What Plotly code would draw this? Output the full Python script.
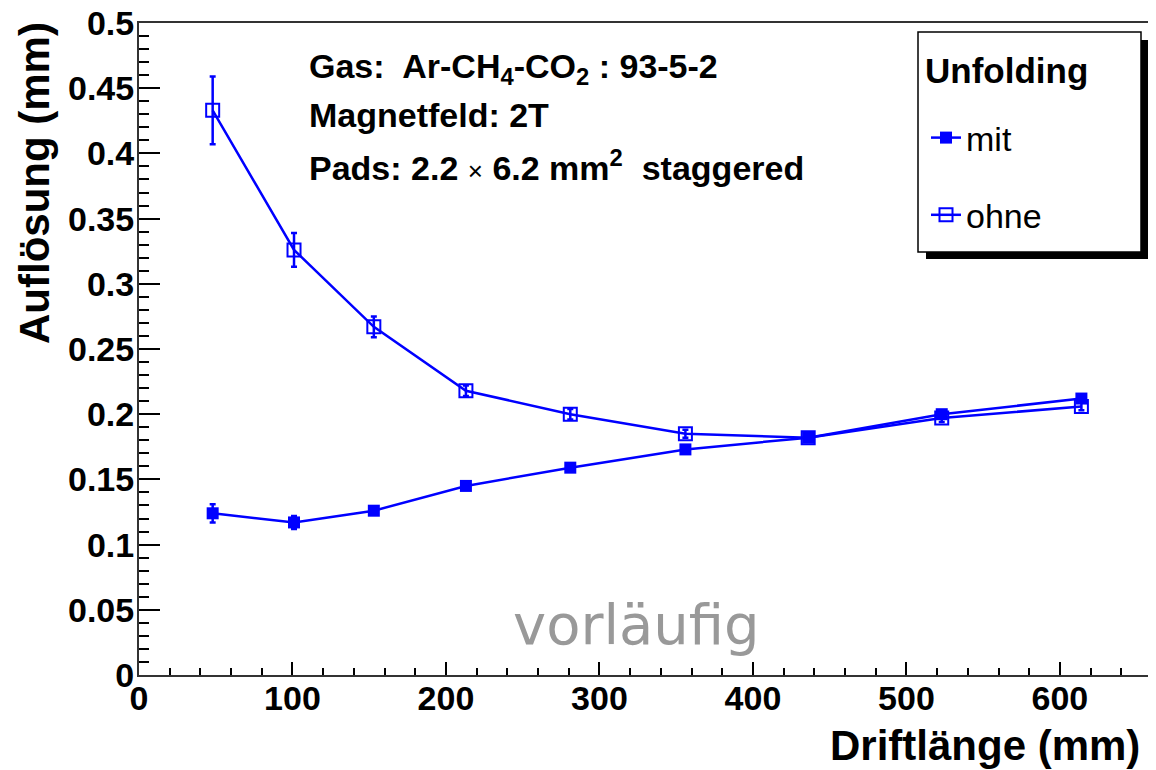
import plotly.graph_objects as go

# ---- data ----
drift = [48, 101, 153, 213, 281, 356, 436, 523, 614]
mit = [0.124, 0.117, 0.126, 0.145, 0.159, 0.173, 0.182, 0.200, 0.212]
mit_err = [0.007, 0.005, 0.003, 0.003, 0.003, 0.003, 0.003, 0.003, 0.003]
ohne = [0.433, 0.326, 0.267, 0.218, 0.200, 0.185, 0.182, 0.197, 0.206]
ohne_err = [0.026, 0.013, 0.008, 0.004, 0.004, 0.003, 0.003, 0.003, 0.003]

x_ticks = [0, 100, 200, 300, 400, 500, 600]
y_ticks = [0, 0.05, 0.1, 0.15, 0.2, 0.25, 0.3, 0.35, 0.4, 0.45, 0.5]
y_labels = ["0", "0.05", "0.1", "0.15", "0.2", "0.25", "0.3", "0.35", "0.4", "0.45", "0.5"]

# page body margin offset of the browser (8px)
OFF = 8
W, H = 1156 - OFF, 770 - OFF
L, R, T, B = 139 - OFF, 4, 23 - OFF, 95
PW, PH = W - L - R, H - T - B
SX0, SY0 = 139, 675  # screen pixel of plot origin


def px(xs):
    return (xs - SX0) / PW


def py(ys):
    return (SY0 - ys) / PH


BLUE = "#0000ff"
FONT = "Liberation Sans"

fig = go.Figure()
fig.add_trace(go.Scatter(
    x=drift, y=mit, mode="lines+markers", name="mit", legendgroup="a",
    line=dict(color=BLUE, width=2.5),
    marker=dict(symbol="square", size=12, color=BLUE),
    error_y=dict(type="data", array=mit_err, color=BLUE, thickness=2.5, width=3),
))
fig.add_trace(go.Scatter(
    x=drift, y=ohne, mode="lines+markers", name="ohne", legendgroup="b",
    line=dict(color=BLUE, width=2.5),
    marker=dict(symbol="square-open", size=13, color=BLUE, line=dict(width=2, color=BLUE)),
    error_y=dict(type="data", array=ohne_err, color=BLUE, thickness=2.5, width=3),
))

axis_common = dict(
    showgrid=False, zeroline=False, showline=True, linecolor="#333333", linewidth=2,
    mirror=True, ticks="inside", tickcolor="#000000", tickwidth=1.5,
    tickfont=dict(family=FONT, size=34, color="#000000", weight="bold"),
    ticklabeloverflow="allow", automargin=False,
)

fig.update_xaxes(
    range=[0, 660], tickvals=x_ticks, ticktext=[str(v) for v in x_ticks],
    ticklen=13, ticklabelstandoff=-8,
    minor=dict(dtick=20, ticklen=7, ticks="inside", tickcolor="#000000", tickwidth=1.5),
    **axis_common,
)
fig.update_yaxes(
    range=[0, 0.5], tickvals=y_ticks, ticktext=y_labels,
    ticklen=21, ticklabelstandoff=-4,
    minor=dict(dtick=0.01, ticklen=10, ticks="inside", tickcolor="#000000", tickwidth=1.5),
    **axis_common,
)

shapes = [
    # legend shadow
    dict(type="rect", xref="paper", yref="paper", x0=px(926), x1=px(1148), y0=py(259), y1=py(40),
         fillcolor="#000000", line=dict(width=0), layer="below"),
    # legend box
    dict(type="rect", xref="paper", yref="paper", x0=px(918), x1=px(1141), y0=py(252), y1=py(32),
         fillcolor="#ffffff", line=dict(width=1.5, color="#000000"), layer="below"),
]

annotations = [
    dict(text="Gas:  Ar-CH<sub>4</sub>-CO<sub>2</sub> : 93-5-2", x=px(307), y=py(68)),
    dict(text="Magnetfeld: 2T", x=px(307), y=py(115)),
    dict(text="Pads: 2.2 <span style='font-weight:normal;font-size:26px'>×</span> 6.2 mm<sup>2</sup>  staggered",
         x=px(307), y=py(166)),
]
for a in annotations:
    a.update(xref="paper", yref="paper", xanchor="left", yanchor="middle", showarrow=False,
             font=dict(family=FONT, size=34, color="#000000", weight="bold"))

annotations += [
    dict(text="Unfolding", xref="paper", yref="paper", x=px(923), y=py(70),
         xanchor="left", yanchor="middle", showarrow=False,
         font=dict(family=FONT, size=35, color="#000000", weight="bold")),
    dict(text="Driftlänge (mm)", xref="paper", yref="paper", x=px(1142), y=py(745),
         xanchor="right", yanchor="middle", showarrow=False,
         font=dict(family=FONT, size=42, color="#000000", weight="bold")),
    dict(text="Auflösung (mm)", xref="paper", yref="paper", x=px(35), y=py(20),
         xanchor="center", yanchor="top", textangle=-90, showarrow=False,
         font=dict(family=FONT, size=42, color="#000000", weight="bold")),
    dict(text="vorläufig", xref="paper", yref="paper", x=px(636), y=py(624),
         xanchor="center", yanchor="middle", showarrow=False,
         font=dict(family="DejaVu Sans", size=56, color="#999999")),
]

fig.update_layout(
    width=W, height=H, margin=dict(l=L, r=R, t=T, b=B, autoexpand=False),
    paper_bgcolor="#ffffff", plot_bgcolor="#ffffff",
    shapes=shapes, annotations=annotations,
    showlegend=True,
    legend=dict(
        x=px(926), y=py(109), xanchor="left", yanchor="top",
        bgcolor="rgba(0,0,0,0)", borderwidth=0,
        font=dict(family=FONT, size=34, color="#000000"),
        tracegroupgap=30, traceorder="grouped",
    ),
)

fig.write_html("out.html")
